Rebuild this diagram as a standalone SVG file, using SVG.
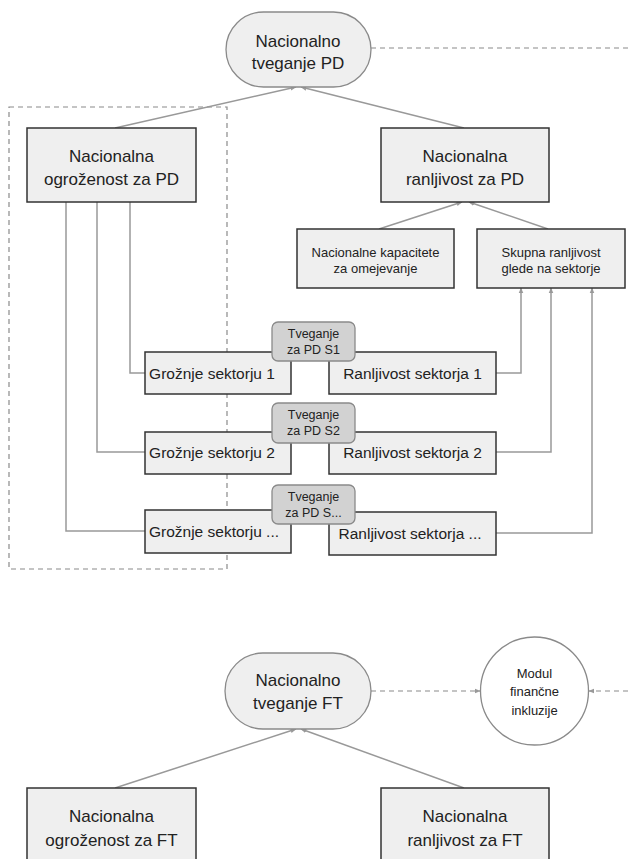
<svg xmlns="http://www.w3.org/2000/svg" width="628" height="859" viewBox="0 0 628 859">
<style>
.box{fill:#efefef;stroke:#333;stroke-width:1.5}
.pill{fill:#efefef;stroke:#8a8a8a;stroke-width:1.3}
.tv{fill:#d2d2d2;stroke:#8a8a8a;stroke-width:1.3}
.circ{fill:#fff;stroke:#8a8a8a;stroke-width:1.3}
.ln{fill:none;stroke:#999;stroke-width:1.5}
.dash{fill:none;stroke:#8a8a8a;stroke-width:1.2;stroke-dasharray:5 4}
text{font-family:"Liberation Sans",Arial,sans-serif;fill:#222;text-anchor:middle}
.t16{font-size:17px}
.t15{font-size:15.5px}
.t13{font-size:13px}
.t12{font-size:12.5px}
.t11{font-size:13px}
</style>
<defs>
<marker id="ah" viewBox="0 0 10 10" refX="9" refY="5" markerWidth="6" markerHeight="6" orient="auto" markerUnits="userSpaceOnUse">
<path d="M0,1 L10,5 L0,9 z" fill="#999"/>
</marker>
</defs>
<rect class="dash" x="9" y="107" width="218" height="462"/>
<g id="connectors">
<line class="ln" x1="115" y1="128" x2="296" y2="87" marker-end="url(#ah)"/>
<line class="ln" x1="464" y1="128" x2="301" y2="87" marker-end="url(#ah)"/>
<line class="dash" x1="371" y1="48" x2="628" y2="48"/>
<line class="ln" x1="379" y1="229" x2="462" y2="202" marker-end="url(#ah)"/>
<line class="ln" x1="548" y1="229" x2="469" y2="202" marker-end="url(#ah)"/>
<polyline class="ln" points="130,202 130,373 145,373"/>
<polyline class="ln" points="97,202 97,452 145,452"/>
<polyline class="ln" points="66,202 66,531 145,531"/>
<polyline class="ln" points="496,373 521,373 521,288" marker-end="url(#ah)"/>
<polyline class="ln" points="496,452 551,452 551,288" marker-end="url(#ah)"/>
<polyline class="ln" points="496,533 592,533 592,288" marker-end="url(#ah)"/>
<line class="ln" x1="115" y1="788" x2="296" y2="729" marker-end="url(#ah)"/>
<line class="ln" x1="464" y1="788" x2="301" y2="729" marker-end="url(#ah)"/>
<line class="dash" x1="371" y1="691" x2="480" y2="691" marker-end="url(#ah)"/>
<line class="dash" x1="628" y1="691" x2="589" y2="691" marker-end="url(#ah)"/>
</g>
<g id="n-tveganje-pd">
<rect class="pill" x="226" y="12" width="145" height="75" rx="37.5"/>
<text class="t16" x="298" y="47">Nacionalno</text>
<text class="t16" x="298" y="69">tveganje PD</text>
</g>
<g id="n-ogrozenost-pd">
<rect class="box" x="27" y="128" width="169" height="74"/>
<text class="t16" x="111.5" y="162">Nacionalna</text>
<text class="t16" x="111.5" y="185">ogroženost za PD</text>
</g>
<g id="n-ranljivost-pd">
<rect class="box" x="381" y="128" width="168" height="74"/>
<text class="t16" x="465" y="162">Nacionalna</text>
<text class="t16" x="465" y="185">ranljivost za PD</text>
</g>
<g id="n-kapacitete">
<rect class="box" x="297" y="229" width="157" height="59"/>
<text class="t13" x="375.5" y="256.5">Nacionalne kapacitete</text>
<text class="t13" x="375.5" y="273">za omejevanje</text>
</g>
<g id="n-skupna">
<rect class="box" x="477" y="229" width="148" height="59"/>
<text class="t13" x="551" y="256.5">Skupna ranljivost</text>
<text class="t13" x="551" y="273">glede na sektorje</text>
</g>
<g id="n-groznje1">
<rect class="box" x="145" y="352" width="146" height="42"/>
<text class="t15" x="212" y="378.5">Grožnje sektorju 1</text>
</g>
<g id="n-ranljivost1">
<rect class="box" x="329" y="352" width="167" height="42"/>
<text class="t15" x="412.5" y="378.5">Ranljivost sektorja 1</text>
</g>
<g id="n-groznje2">
<rect class="box" x="145" y="432" width="146" height="42"/>
<text class="t15" x="212" y="458">Grožnje sektorju 2</text>
</g>
<g id="n-ranljivost2">
<rect class="box" x="329" y="432" width="167" height="42"/>
<text class="t15" x="412.5" y="458">Ranljivost sektorja 2</text>
</g>
<g id="n-groznje3">
<rect class="box" x="145" y="510" width="146" height="43"/>
<text class="t15" x="214" y="537">Grožnje sektorju ...</text>
</g>
<g id="n-ranljivost3">
<rect class="box" x="329" y="512" width="167" height="43"/>
<text class="t15" x="410" y="539">Ranljivost sektorja ...</text>
</g>
<g id="n-tv1">
<rect class="tv" x="272" y="322" width="83" height="39" rx="6"/>
<text class="t12" x="313.5" y="338">Tveganje</text>
<text class="t12" x="313.5" y="354">za PD S1</text>
</g>
<g id="n-tv2">
<rect class="tv" x="272" y="403" width="83" height="40" rx="6"/>
<text class="t12" x="313.5" y="419">Tveganje</text>
<text class="t12" x="313.5" y="435">za PD S2</text>
</g>
<g id="n-tv3">
<rect class="tv" x="272" y="485" width="83" height="39" rx="6"/>
<text class="t12" x="313.5" y="501">Tveganje</text>
<text class="t12" x="313.5" y="517">za PD S...</text>
</g>
<g id="n-tveganje-ft">
<rect class="pill" x="225" y="653" width="146" height="76" rx="38"/>
<text class="t16" x="298" y="686">Nacionalno</text>
<text class="t16" x="298" y="709">tveganje FT</text>
</g>
<g id="n-modul">
<circle class="circ" cx="534.5" cy="691" r="54"/>
<text class="t11" x="534.5" y="677.5">Modul</text>
<text class="t11" x="534.5" y="696">finančne</text>
<text class="t11" x="534.5" y="714.5">inkluzije</text>
</g>
<g id="n-ogrozenost-ft">
<rect class="box" x="27" y="788" width="169" height="80"/>
<text class="t16" x="111.5" y="822">Nacionalna</text>
<text class="t16" x="111.5" y="846">ogroženost za FT</text>
</g>
<g id="n-ranljivost-ft">
<rect class="box" x="381" y="788" width="168" height="80"/>
<text class="t16" x="465" y="822">Nacionalna</text>
<text class="t16" x="465" y="846">ranljivost za FT</text>
</g>
</svg>
